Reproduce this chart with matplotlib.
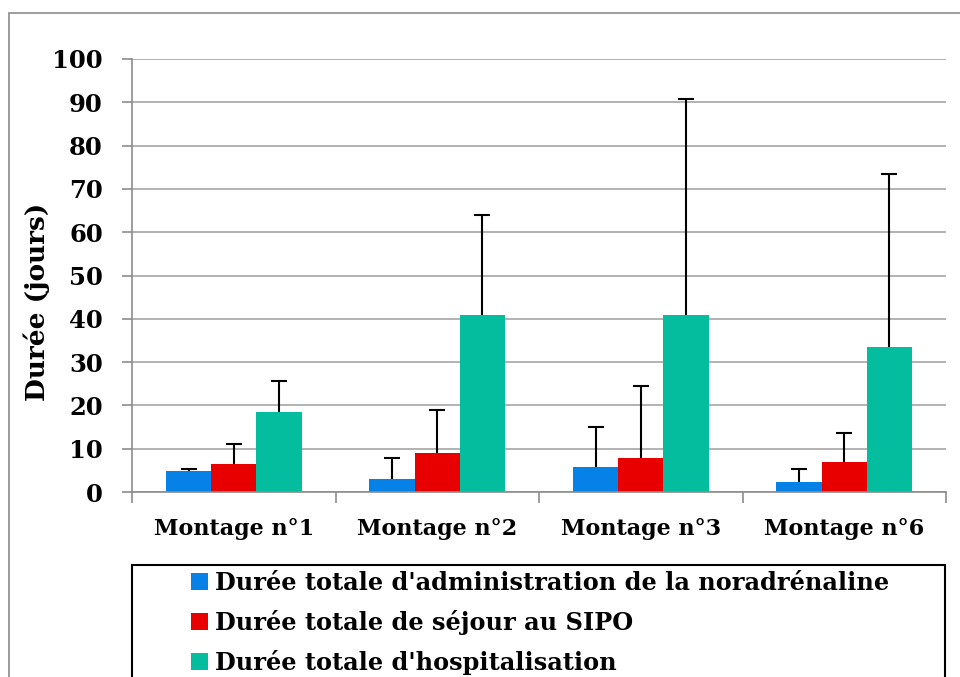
import numpy as np
import matplotlib
matplotlib.use('Agg')
import matplotlib.pyplot as plt
from matplotlib.patches import Rectangle, Patch

categories = ['Montage n°1', 'Montage n°2', 'Montage n°3', 'Montage n°6']
series_names = ["Durée totale d'administration de la noradrénaline",
                "Durée totale de séjour au SIPO",
                "Durée totale d'hospitalisation"]
noradrenaline = [4.9, 2.9, 5.8, 2.4]
noradrenaline_err = [0.3, 5.0, 9.3, 2.8]
sipo = [6.4, 8.9, 7.9, 6.9]
sipo_err = [4.8, 10.0, 16.6, 6.8]
hospitalisation = [18.4, 40.9, 40.9, 33.4]
hospitalisation_err = [7.2, 23.1, 49.9, 40.0]
colors = ['#0682E6', '#E80000', '#04BC9E']

plt.rcParams['font.family'] = ['DejaVu Serif']
plt.rcParams['font.weight'] = 'bold'

fig = plt.figure(figsize=(9.6, 6.77), dpi=100)
ax = fig.add_axes([132/960, 1-492/677, 814/960, 433/677])

x = np.arange(len(categories))
w = 0.222
values = [noradrenaline, sipo, hospitalisation]
errors = [noradrenaline_err, sipo_err, hospitalisation_err]
for i in range(3):
  pos = x + (i - 1) * w
  ax.bar(pos, values[i], w, color=colors[i], zorder=2)
  eb = ax.errorbar(pos, values[i], yerr=[np.zeros(4), errors[i]], fmt='none',
                   ecolor='black', elinewidth=1.5, capsize=6, capthick=1.5, zorder=3)
  # only the upper cap is shown
  eb[1][0].set_visible(False)

ax.set_xlim(-0.5, 3.5)
ax.set_ylim(0, 100)
ax.set_yticks(range(0, 101, 10))
ax.yaxis.grid(True, color='#a6a6a6', linewidth=1.2, zorder=0)
ax.set_axisbelow(True)
for s in ['top', 'right']:
  ax.spines[s].set_visible(False)
ax.spines['left'].set_color('#8c8c8c')
ax.spines['bottom'].set_color('#8c8c8c')
ax.spines['left'].set_linewidth(1.2)
ax.spines['bottom'].set_linewidth(1.2)
ax.set_xticks(x)
ax.set_xticklabels(categories, fontsize=16, fontweight='bold')
ax.set_xticks(np.arange(-0.5, 4.0, 1.0), minor=True)
ax.tick_params(axis='x', which='major', length=0, pad=19)
ax.tick_params(axis='x', which='minor', length=8, color='#8c8c8c', width=1.2)
ax.tick_params(axis='y', length=7, color='#8c8c8c', width=1.2, labelsize=17.5, pad=14)
for lab in ax.get_yticklabels():
  lab.set_fontweight('bold')
ax.set_ylabel('Durée (jours)', fontsize=19, fontweight='bold')
ax.yaxis.set_label_coords(-0.101, 0.439)

# outer chart frame
fig.patches.append(Rectangle((9/960, -0.1), 1.2, 1-13/677+0.1, transform=fig.transFigure,
                             fill=False, edgecolor='#8c8c8c', linewidth=1.2))
# legend frame
fig.patches.append(Rectangle((132/960, -0.1), 813/960, 1-565/677+0.1, transform=fig.transFigure,
                             fill=False, edgecolor='black', linewidth=1.5))
handles = [Patch(facecolor=c, edgecolor='none') for c in colors]
fig.legend(handles, series_names, loc='upper left', bbox_to_anchor=(191/960, 1-571/677),
           frameon=False, handlelength=0.7, handleheight=0.7,
           handletextpad=0.3, labelspacing=0.62, borderpad=0, borderaxespad=0,
           prop={'weight': 'bold', 'size': 17.3})

fig.savefig('out.png', dpi=100)
